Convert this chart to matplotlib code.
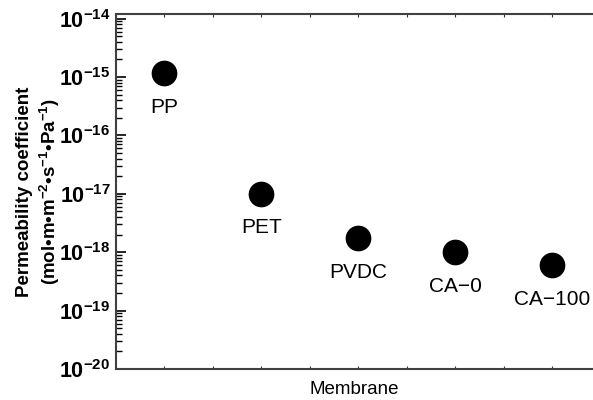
import numpy as np
import matplotlib
matplotlib.use("Agg")
import matplotlib.pyplot as plt
from matplotlib.ticker import LogLocator, MultipleLocator, NullFormatter

plt.rcParams['font.family'] = ['Liberation Sans', 'DejaVu Sans']
plt.rcParams['mathtext.fontset'] = 'custom'
plt.rcParams['mathtext.rm'] = 'Liberation Sans'
plt.rcParams['mathtext.bf'] = 'Liberation Sans:bold'

# data
membranes = ['PP', 'PET', 'PVDC', 'CA\u22120', 'CA\u2212100']
positions = [1, 2, 3, 4, 5]
permeability = [1.17e-15, 1.0e-17, 1.75e-18, 1.0e-18, 6.0e-19]

fig = plt.figure(figsize=(5.93, 4.0), dpi=100)
ax = fig.add_axes([0.1956, 0.0775, 0.8044, 0.8875])

ax.plot(positions, permeability, 'o', color='black', markersize=17.5, linestyle='none')
for xp, yp, name in zip(positions, permeability, membranes):
    ax.annotate(name, (xp, yp), xytext=(0, -24.5), textcoords='offset points',
                ha='center', va='center', fontsize=15)

ax.set_yscale('log')
ax.set_ylim(1e-20, 1.2e-14)
ax.set_xlim(0.5, 5.42)

ax.yaxis.set_minor_locator(LogLocator(base=10, subs=np.arange(2, 10), numticks=10))
ax.yaxis.set_minor_formatter(NullFormatter())
ax.set_yticks([10.0 ** k for k in range(-20, -13)])
ax.set_yticklabels([r'$\mathbf{10^{%d}}$' % k for k in range(-20, -13)], fontsize=15.5)

ax.xaxis.set_major_locator(MultipleLocator(0.5))
ax.set_xticklabels([])
ax.tick_params(axis='x', which='both', direction='in', length=2, top=True, bottom=True, color='#333333')
ax.tick_params(axis='y', which='major', direction='in', length=7, width=1.2, pad=4)
ax.tick_params(axis='y', which='minor', direction='in', length=4, width=1.0)

for side in ['left', 'bottom', 'top']:
    ax.spines[side].set_color('#404040')
    ax.spines[side].set_linewidth(1.5)
ax.spines['right'].set_visible(False)

ax.set_ylabel('Permeability coefficient\n(mol\u2022m\u2022m$^{\\mathbf{-2}}$\u2022s$^{\\mathbf{-1}}$\u2022Pa$^{\\mathbf{-1}}$)',
              fontsize=13.5, fontweight='bold', labelpad=-2)
ax.set_xlabel('Membrane', fontsize=13.5, labelpad=5)

fig.savefig('out.png', dpi=100)
